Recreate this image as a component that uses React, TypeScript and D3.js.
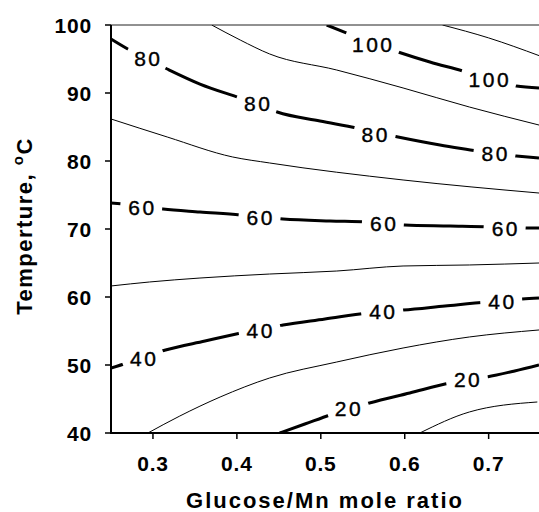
import React from "react";
import * as d3 from "d3";

// Contour lines of the response surface: [glucose/Mn ratio, temperature °C]
const contour10: [number, number][] = [[0.618, 40], [0.677, 43.09], [0.758, 44.56]];
const contour20: [number, number][] = [
  [0.451, 40], [0.481, 41.32], [0.511, 42.65], [0.532, 43.53], [0.558, 44.41], [0.606, 45.88],
  [0.654, 47.35], [0.674, 47.79], [0.698, 48.24], [0.731, 49.12], [0.76, 50.0],
];
const contour30: [number, number][] = [
  [0.294, 40], [0.332, 42.5], [0.38, 45.29], [0.439, 48.09], [0.519, 50.44], [0.598, 52.5],
  [0.677, 54.12], [0.76, 55.15],
];
const contour40: [number, number][] = [
  [0.25, 49.56], [0.269, 50.29], [0.288, 51.18], [0.315, 52.21], [0.362, 53.53], [0.41, 54.85],
  [0.427, 55.29], [0.455, 55.88], [0.505, 56.76], [0.555, 57.65], [0.573, 57.94], [0.598, 58.09],
  [0.648, 58.68], [0.698, 59.26], [0.715, 59.41], [0.74, 59.71], [0.76, 59.85],
];
const contour50: [number, number][] = [
  [0.25, 61.62], [0.296, 62.21], [0.356, 62.79], [0.439, 63.38], [0.519, 63.82], [0.598, 64.56],
  [0.677, 64.71], [0.76, 65.0],
];
const contour60: [number, number][] = [
  [0.25, 73.82], [0.286, 73.38], [0.312, 72.94], [0.356, 72.5], [0.404, 72.06], [0.427, 71.76],
  [0.455, 71.47], [0.511, 71.18], [0.555, 71.03], [0.574, 70.88], [0.6, 70.59], [0.654, 70.44],
  [0.701, 70.29], [0.719, 70.15], [0.76, 70.15],
];
const contour70: [number, number][] = [
  [0.25, 86.18], [0.317, 83.53], [0.395, 80.59], [0.439, 79.71], [0.598, 77.21], [0.76, 75.29],
];
const contour80: [number, number][] = [
  [0.25, 97.94], [0.27, 96.47], [0.293, 95.0], [0.317, 93.53], [0.356, 91.32], [0.404, 89.26],
  [0.424, 88.38], [0.448, 87.21], [0.499, 85.88], [0.543, 84.85], [0.564, 84.26], [0.592, 83.53],
  [0.642, 82.35], [0.686, 81.47], [0.707, 81.03], [0.733, 80.74], [0.76, 80.44],
];
const contour90: [number, number][] = [
  [0.37, 100], [0.404, 97.79], [0.439, 95.74], [0.519, 93.38], [0.598, 90.74], [0.677, 87.94],
  [0.76, 85.29],
];
const contour100: [number, number][] = [
  [0.507, 100], [0.531, 98.82], [0.561, 97.35], [0.592, 96.03], [0.63, 94.56], [0.669, 93.24],
  [0.7, 92.06], [0.733, 91.03], [0.76, 90.74],
];
const contour110: [number, number][] = [[0.645, 100], [0.7, 98.1], [0.76, 95.5]];

// Inline label anchors for the labelled (even) levels
const labels20: [number, number][] = [[0.532, 43.68], [0.674, 47.94]];
const labels40: [number, number][] = [[0.288, 51.03], [0.427, 55.15], [0.573, 57.94], [0.715, 59.41]];
const labels60: [number, number][] = [[0.286, 73.24], [0.427, 71.76], [0.574, 70.88], [0.719, 70.15]];
const labels80: [number, number][] = [[0.293, 95.15], [0.424, 88.53], [0.564, 83.97], [0.707, 81.18]];
const labels100: [number, number][] = [[0.561, 97.2], [0.7, 92.06]];

const xTicks = [0.3, 0.4, 0.5, 0.6, 0.7];
const yTicks = [40, 50, 60, 70, 80, 90, 100];

const contours = [
  { level: 10, points: contour10, labels: [] as [number, number][] },
  { level: 20, points: contour20, labels: labels20 },
  { level: 30, points: contour30, labels: [] as [number, number][] },
  { level: 40, points: contour40, labels: labels40 },
  { level: 50, points: contour50, labels: [] as [number, number][] },
  { level: 60, points: contour60, labels: labels60 },
  { level: 70, points: contour70, labels: [] as [number, number][] },
  { level: 80, points: contour80, labels: labels80 },
  { level: 90, points: contour90, labels: [] as [number, number][] },
  { level: 100, points: contour100, labels: labels100 },
  { level: 110, points: contour110, labels: [] as [number, number][] },
];

const W = 539;
const H = 512;
const FONT = "'Liberation Sans', Arial, Helvetica, sans-serif";

export default function App() {
  const x = d3.scaleLinear().domain([0.25, 0.76]).range([111, 539]);
  const y = d3.scaleLinear().domain([40, 100]).range([433, 25]);
  const [x0, x1] = x.range();
  const [y0, y1] = y.range();

  const line = d3
    .line<[number, number]>()
    .x((d) => x(d[0]))
    .y((d) => y(d[1]))
    .curve(d3.curveMonotoneX);

  // local direction of a contour at a label, used to cut the gap along the line
  const angleAt = (pts: [number, number][], lx: number) => {
    let i = pts.findIndex((p, k) => k < pts.length - 1 && p[0] <= lx && pts[k + 1][0] >= lx);
    if (i < 0) i = 0;
    const a = pts[i];
    const b = pts[i + 1];
    return (Math.atan2(y(b[1]) - y(a[1]), x(b[0]) - x(a[0])) * 180) / Math.PI;
  };

  const labelFont = 21;
  const labelSpacing = 2.5;

  return (
    <svg
      width={W}
      height={H}
      style={{ position: "absolute", left: 0, top: 0, background: "#fff" }}
      fontFamily={FONT}
    >
      <defs>
        <clipPath id="plot-clip">
          <rect x={x0} y={y1} width={x1 - x0} height={y0 - y1} />
        </clipPath>
        <mask id="label-gaps" maskUnits="userSpaceOnUse" x={0} y={0} width={W} height={H}>
          <rect x={0} y={0} width={W} height={H} fill="#fff" />
          {contours.flatMap((c) =>
            c.labels.map((l, i) => {
              const txt = String(c.level);
              const gap = txt.length * 14 + 14;
              return (
                <rect
                  key={`m${c.level}-${i}`}
                  x={-gap / 2}
                  y={-8}
                  width={gap}
                  height={16}
                  fill="#000"
                  transform={`translate(${x(l[0])},${y(l[1])}) rotate(${angleAt(c.points, l[0])})`}
                />
              );
            })
          )}
        </mask>
      </defs>

      {/* contour lines */}
      <g clipPath="url(#plot-clip)">
        <g mask="url(#label-gaps)" fill="none" stroke="#000" strokeLinejoin="round">
          {contours.map((c) => (
            <path
              key={c.level}
              d={line(c.points) ?? ""}
              strokeWidth={c.level % 20 === 0 ? 3 : 1}
            />
          ))}
        </g>
      </g>

      {/* contour labels */}
      <g
        fontSize={labelFont}
        fill="#000"
        stroke="#000"
        strokeWidth={0.4}
        textAnchor="middle"
        letterSpacing={labelSpacing}
      >
        {contours.flatMap((c) =>
          c.labels.map((l, i) => (
            <text key={`t${c.level}-${i}`} x={x(l[0]) + labelSpacing / 2} y={y(l[1])} dy="0.36em">
              {c.level}
            </text>
          ))
        )}
      </g>

      {/* frame */}
      <line x1={x0} x2={x1} y1={y1} y2={y1} stroke="#222" strokeWidth={1} />
      <line x1={x0} x2={x0} y1={y0 + 1} y2={y1} stroke="#000" strokeWidth={2} />
      <line x1={x0} x2={x1} y1={y0} y2={y0} stroke="#000" strokeWidth={2} />

      {/* y axis */}
      <g fontSize={21} fontWeight="bold" textAnchor="end">
        {yTicks.map((t) => (
          <g key={t}>
            <line x1={x0 - 6} x2={x0} y1={y(t)} y2={y(t)} stroke="#000" strokeWidth={1.5} />
            <text x={x0 - 19} y={y(t)} dy="0.36em" letterSpacing={0.8}>
              {t}
            </text>
          </g>
        ))}
      </g>

      {/* x axis */}
      <g fontSize={21} fontWeight="bold" textAnchor="middle">
        {xTicks.map((t) => (
          <g key={t}>
            <line x1={x(t)} x2={x(t)} y1={y0} y2={y0 + 6} stroke="#000" strokeWidth={1.5} />
            <text x={x(t)} y={471} letterSpacing={0.8}>
              {d3.format(".1f")(t)}
            </text>
          </g>
        ))}
      </g>

      <text x={325} y={508} fontSize={22} fontWeight="bold" textAnchor="middle" letterSpacing={2}>
        Glucose/Mn mole ratio
      </text>

      <text
        transform="translate(32,226) rotate(-90)"
        fontSize={22}
        fontWeight="bold"
        textAnchor="middle"
        letterSpacing={1.5}
      >
        Temperture,{" "}
        <tspan fontSize={15} dy={-9}>
          o
        </tspan>
        <tspan dy={9}>C</tspan>
      </text>
    </svg>
  );
}
